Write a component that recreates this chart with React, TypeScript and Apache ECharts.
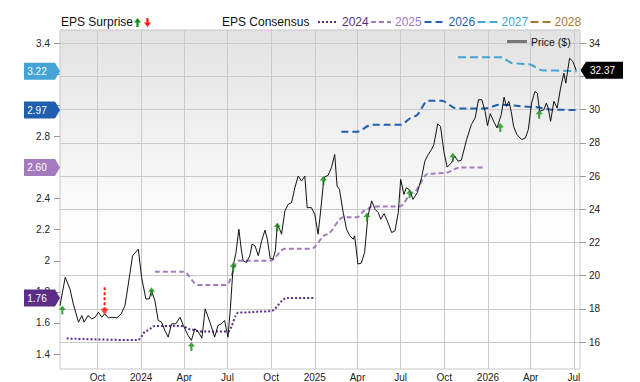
import React, { useEffect, useRef } from 'react';
import * as echarts from 'echarts';

// ---------- data ----------
const xTickDates = ['2023-10-01', '2024-01-01', '2024-04-01', '2024-07-01', '2024-10-01', '2025-01-01', '2025-04-01', '2025-07-01', '2025-10-01', '2026-01-01', '2026-04-01', '2026-07-01'];
const monthNames = ['Jan', 'Feb', 'Mar', 'Apr', 'May', 'Jun', 'Jul', 'Aug', 'Sep', 'Oct', 'Nov', 'Dec'];
const epsTicks = [1.4, 1.6, 1.8, 2.0, 2.2, 2.4, 2.6, 2.8, 3.0, 3.2, 3.4];
// labels hidden behind the consensus badges in the reference are left out
const epsTickLabels = [1.4, 1.6, 1.8, 2.0, 2.2, 2.4, 2.8, 3.4];
const priceTicks = [16, 18, 20, 22, 24, 26, 28, 30, 32, 34];
const priceTickLabels = [16, 18, 20, 22, 24, 26, 28, 30, 34];

const priceDates = [
  '2023-07-14', '2023-07-25', '2023-08-04', '2023-08-11', '2023-08-22', '2023-08-29', '2023-09-03', '2023-09-11', '2023-09-19', '2023-09-26',
  '2023-10-03', '2023-10-10', '2023-10-16', '2023-10-24', '2023-11-01', '2023-11-11', '2023-11-20', '2023-11-28', '2023-12-05', '2023-12-14',
  '2023-12-26', '2024-01-02', '2024-01-11', '2024-01-18', '2024-01-23', '2024-01-30', '2024-02-06', '2024-02-13', '2024-02-20', '2024-02-27',
  '2024-03-05', '2024-03-14', '2024-03-23', '2024-03-30', '2024-04-09', '2024-04-16', '2024-04-23', '2024-04-30', '2024-05-08', '2024-05-15',
  '2024-05-25', '2024-06-04', '2024-06-11', '2024-06-18', '2024-06-25', '2024-07-02', '2024-07-07', '2024-07-13', '2024-07-19', '2024-07-25',
  '2024-07-30', '2024-08-03', '2024-08-10', '2024-08-17', '2024-08-22', '2024-08-28', '2024-09-04', '2024-09-11', '2024-09-18', '2024-09-23',
  '2024-09-29', '2024-10-05', '2024-10-10', '2024-10-14', '2024-10-19', '2024-10-23', '2024-10-30', '2024-11-06', '2024-11-13', '2024-11-20',
  '2024-11-27', '2024-12-04', '2024-12-11', '2024-12-16', '2024-12-25', '2025-01-01', '2025-01-08', '2025-01-13', '2025-01-19', '2025-01-22',
  '2025-01-29', '2025-02-05', '2025-02-12', '2025-02-17', '2025-02-22', '2025-03-02', '2025-03-09', '2025-03-16', '2025-03-23', '2025-03-26',
  '2025-04-02', '2025-04-09', '2025-04-16', '2025-04-23', '2025-05-01', '2025-05-08', '2025-05-15', '2025-05-20', '2025-05-27', '2025-06-03',
  '2025-06-12', '2025-06-19', '2025-06-26', '2025-07-01', '2025-07-08', '2025-07-13', '2025-07-20', '2025-07-27', '2025-08-05', '2025-08-14',
  '2025-08-21', '2025-08-28', '2025-09-04', '2025-09-09', '2025-09-17', '2025-09-23', '2025-09-30', '2025-10-07', '2025-10-16', '2025-10-23',
  '2025-10-30', '2025-11-06', '2025-11-17', '2025-11-27', '2025-12-05', '2025-12-12', '2025-12-19', '2025-12-26', '2025-12-31', '2026-01-06',
  '2026-01-14', '2026-01-20', '2026-01-29', '2026-02-04', '2026-02-09', '2026-02-14', '2026-02-19', '2026-02-24', '2026-03-03', '2026-03-13',
  '2026-03-21', '2026-03-27', '2026-04-03', '2026-04-10', '2026-04-15', '2026-04-20', '2026-04-29', '2026-05-04', '2026-05-08', '2026-05-13',
  '2026-05-20', '2026-05-27', '2026-06-03', '2026-06-10', '2026-06-14', '2026-06-22', '2026-06-29', '2026-07-06',
];
const priceValues = [
  18.2, 19.9, 19.2, 18.3, 17.2, 17.6, 17.2, 17.6, 17.4, 17.5,
  17.8, 17.5, 17.7, 17.46, 17.5, 17.46, 17.7, 18.2, 19.5, 21.2,
  21.6, 19.9, 18.6, 18.6, 19.1, 18.5, 17.3, 17.2, 16.7, 16.3,
  17.1, 17.1, 17.5, 17.0, 16.4, 16.1, 16.8, 16.64, 16.24, 18.0,
  17.2, 16.3, 17.0, 17.1, 17.3, 16.3, 18.0, 20.6, 21.4, 22.8,
  21.6, 20.9, 20.8, 21.2, 21.9, 21.8, 21.2, 22.1, 22.74, 22.2,
  21.04, 21.0, 21.5, 23.1, 22.8, 22.5, 23.9, 24.3, 24.4, 25.3,
  26.0, 25.7, 26.0, 24.1, 24.1, 23.7, 22.5, 23.8, 25.5, 25.96,
  26.04, 26.5, 27.3, 25.4, 25.2, 23.8, 22.8, 22.4, 22.2, 22.4,
  20.7, 20.76, 21.4, 23.6, 24.5, 24.0, 23.8, 23.4, 23.74, 23.3,
  22.6, 22.7, 23.8, 25.8, 24.9, 25.3, 25.16, 24.6, 25.0, 25.9,
  26.9, 27.3, 27.6, 27.9, 29.14, 29.0, 27.5, 26.54, 26.8, 27.2,
  26.9, 26.96, 28.2, 29.1, 29.5, 30.6, 30.6, 29.9, 29.04, 29.76,
  29.24, 28.9, 29.7, 30.76, 30.2, 30.5, 29.9, 29.0, 28.5, 28.2,
  28.3, 28.8, 30.4, 31.1, 31.0, 29.9, 30.0, 30.4, 30.1, 29.3,
  30.5, 30.1, 31.3, 32.2, 31.6, 33.1, 32.9, 32.37,
];

const eps2024Dates = ['2023-07-28', '2023-12-25', '2024-01-12', '2024-01-30', '2024-03-27', '2024-04-13', '2024-05-04', '2024-07-02', '2024-07-24', '2024-09-29', '2024-11-03', '2024-12-29'];
const eps2024Values = [1.50, 1.49, 1.55, 1.58, 1.58, 1.56, 1.545, 1.545, 1.667, 1.675, 1.76, 1.76];

const eps2025Dates = ['2024-01-30', '2024-03-30', '2024-04-30', '2024-06-29', '2024-07-24', '2024-09-29', '2024-10-30', '2024-12-25', '2025-01-26', '2025-03-02', '2025-03-30', '2025-04-20', '2025-05-01', '2025-06-29', '2025-07-27', '2025-08-28', '2025-10-02', '2025-11-03', '2025-12-26'];
const eps2025Values = [1.93, 1.93, 1.845, 1.845, 2.0, 2.0, 2.078, 2.078, 2.17, 2.28, 2.28, 2.33, 2.35, 2.35, 2.44, 2.56, 2.565, 2.60, 2.60];

const eps2026Dates = ['2025-02-26', '2025-03-30', '2025-05-01', '2025-06-29', '2025-07-31', '2025-08-28', '2025-09-25', '2025-10-27', '2025-12-26', '2026-01-27', '2026-04-06', '2026-05-18', '2026-07-07'];
const eps2026Values = [2.83, 2.83, 2.875, 2.875, 2.93, 3.03, 3.03, 2.98, 2.98, 3.005, 2.99, 2.972, 2.97];

const eps2027Dates = ['2025-10-30', '2026-01-27', '2026-02-24', '2026-03-27', '2026-04-27', '2026-07-07'];
const eps2027Values = [3.31, 3.31, 3.27, 3.265, 3.225, 3.22];

const eps2028Dates: string[] = [];
const eps2028Values: number[] = [];

const surpriseUpDates = ['2023-07-19', '2024-01-23', '2024-04-16', '2024-07-13', '2024-10-14', '2025-01-19', '2025-04-21', '2025-07-20', '2025-10-19', '2026-01-27', '2026-04-19'];
const surpriseUpPrices = [18.2, 19.3, 16.0, 20.8, 23.2, 26.0, 23.8, 25.2, 27.4, 29.2, 30.0];

const surpriseDownDates = ['2023-10-16'];
const surpriseDownFrom = [19.3];
const surpriseDownTo = [17.6];

const consensusLabels = ['2024', '2025', '2026', '2027', '2028'];
const consensusBadgeValues = [1.76, 2.60, 2.97, 3.22];

// ---------- helpers ----------
const ts = (s: string) => {
  const [y, m, d] = s.split('-').map(Number);
  return new Date(y, m - 1, d).getTime();
};
const zip = (ds: string[], vs: number[]) => ds.map((d, i) => [ts(d), vs[i]]);

const FONT = 'Liberation Sans, Arial, Helvetica, sans-serif';
const COLORS: Record<string, string> = {
  '2024': '#5b2d86',
  '2025': '#a47bbf',
  '2026': '#1f5fae',
  '2027': '#44a4d6',
  '2028': '#a8782f',
};
const DASH: Record<string, number[]> = {
  '2024': [2, 2],
  '2025': [5, 3],
  '2026': [7, 4],
  '2027': [8, 4],
  '2028': [8, 4],
};
const UP_ARROW = 'path://M4,0 L8,5 L5.2,5 L5.2,10 L2.8,10 L2.8,5 L0,5 Z';
const DOWN_HEAD = 'path://M0,0 L8,0 L4,7 Z';

export default function App() {
  const ref = useRef<HTMLDivElement>(null);

  useEffect(() => {
    document.body.style.margin = '0';
    const chart = echarts.init(ref.current!, null, { renderer: 'svg' });

    const epsSeriesData: Record<string, number[][]> = {
      '2024': zip(eps2024Dates, eps2024Values),
      '2025': zip(eps2025Dates, eps2025Values),
      '2026': zip(eps2026Dates, eps2026Values),
      '2027': zip(eps2027Dates, eps2027Values),
      '2028': zip(eps2028Dates, eps2028Values),
    };

    const consensusSeries = consensusLabels.map((k) => ({
      name: k,
      type: 'line',
      yAxisIndex: 0,
      data: epsSeriesData[k],
      showSymbol: false,
      smooth: 0.35,
      smoothMonotone: 'x',
      lineStyle: { color: COLORS[k], width: 2, type: DASH[k] },
      z: 2,
    }));

    const option: any = {
      animation: false,
      textStyle: { fontFamily: FONT },
      grid: {
        left: 60,
        right: 60,
        top: 30,
        bottom: 12,
        show: true,
        borderColor: '#c6c6c6',
        borderWidth: 1,
        backgroundColor: new echarts.graphic.LinearGradient(0, 0, 0, 1, [
          { offset: 0, color: '#e2e2e2' },
          { offset: 0.62, color: '#ffffff' },
          { offset: 1, color: '#ffffff' },
        ]),
      },
      xAxis: {
        type: 'value',
        min: ts('2023-07-14'),
        max: ts('2026-07-14'),
        axisLine: { show: false },
        axisTick: { show: false, customValues: xTickDates.map(ts) },
        splitLine: { show: true, lineStyle: { color: '#cacaca', width: 1 } },
        axisLabel: {
          customValues: xTickDates.map(ts),
          margin: 3,
          fontSize: 10,
          color: '#222',
          fontFamily: FONT,
          formatter: (v: number) => {
            const d = new Date(v);
            return d.getMonth() === 0 ? String(d.getFullYear()) : monthNames[d.getMonth()];
          },
        },
      },
      yAxis: [
        {
          type: 'value',
          position: 'left',
          min: 1.304,
          max: 3.485,
          axisLine: { show: false },
          splitLine: { show: false },
          axisTick: { show: true, length: 6, lineStyle: { color: '#999' }, customValues: epsTicks },
          axisLabel: {
            customValues: epsTickLabels,
            margin: 10,
            fontSize: 10,
            color: '#222',
            fontFamily: FONT,
            formatter: (v: number) => String(+v.toFixed(1)),
          },
        },
        {
          type: 'value',
          position: 'right',
          min: 14.38,
          max: 34.8,
          axisLine: { show: false },
          splitLine: { show: true, lineStyle: { color: '#cacaca', width: 1 } },
          axisTick: { show: true, length: 6, lineStyle: { color: '#999' }, customValues: priceTicks },
          axisLabel: {
            customValues: priceTickLabels,
            margin: 9,
            fontSize: 10,
            color: '#222',
            fontFamily: FONT,
          },
        },
      ],
      series: [
        ...consensusSeries,
        {
          name: 'Price ($)',
          type: 'line',
          yAxisIndex: 1,
          data: zip(priceDates, priceValues),
          showSymbol: false,
          lineStyle: { color: '#111', width: 1 },
          z: 3,
        },
        {
          name: 'surpriseDownShaft',
          type: 'line',
          yAxisIndex: 1,
          data: [
            [ts(surpriseDownDates[0]), surpriseDownFrom[0]],
            [ts(surpriseDownDates[0]), surpriseDownTo[0] + 0.3],
          ],
          showSymbol: false,
          lineStyle: { color: '#ff1a1a', width: 2, type: [3, 2] },
          z: 4,
        },
        {
          name: 'surpriseDownHead',
          type: 'scatter',
          yAxisIndex: 1,
          data: zip(surpriseDownDates, surpriseDownTo),
          symbol: DOWN_HEAD,
          symbolSize: [8, 7],
          symbolOffset: [0, '-50%'],
          itemStyle: { color: '#ff1a1a' },
          z: 5,
        },
        {
          name: 'surpriseUp',
          type: 'scatter',
          yAxisIndex: 1,
          data: zip(surpriseUpDates, surpriseUpPrices),
          symbol: UP_ARROW,
          symbolSize: [7, 9],
          symbolOffset: [0, '50%'],
          itemStyle: { color: '#138d13' },
          z: 5,
        },
      ],
    };

    chart.setOption(option);

    // ---------- legend + badges (graphic) ----------
    const g: any[] = [];
    const txt = (x: number, y: number, text: string, fill: string, size = 12, align = 'left') => ({
      type: 'text',
      x,
      y,
      z: 100,
      style: { text, fill, fontSize: size, fontFamily: FONT, align, verticalAlign: 'middle' },
    });

    g.push(txt(61, 22, 'EPS Surprise', '#111'));
    g.push({
      type: 'polygon', z: 100,
      shape: { points: [[137.5, 18], [141, 22.5], [138.6, 22.5], [138.6, 27], [136.4, 27], [136.4, 22.5], [134, 22.5]] },
      style: { fill: '#138d13' },
    });
    g.push({
      type: 'polygon', z: 100,
      shape: { points: [[147.5, 27], [151, 22.5], [148.6, 22.5], [148.6, 18], [146.4, 18], [146.4, 22.5], [144, 22.5]] },
      style: { fill: '#ff1a1a' },
    });
    g.push(txt(222, 22, 'EPS Consensus', '#111'));

    const legendX = [318, 371, 424.5, 477.5, 530.5];
    consensusLabels.forEach((k, i) => {
      const x0 = legendX[i];
      g.push({
        type: 'line', z: 100,
        shape: { x1: x0, y1: 22, x2: x0 + 20, y2: 22 },
        style: { stroke: COLORS[k], lineWidth: 2, lineDash: DASH[k] },
      });
      g.push(txt(x0 + 24, 22, k, COLORS[k]));
    });

    // price legend inside plot
    g.push({
      type: 'line', z: 100,
      shape: { x1: 507, y1: 41.5, x2: 527, y2: 41.5 },
      style: { stroke: '#777', lineWidth: 3 },
    });
    g.push(txt(531, 42, 'Price ($)', '#111', 10.5));

    // left consensus badges
    const badgeColors: Record<string, string> = {
      '1.76': COLORS['2024'],
      '2.60': COLORS['2025'],
      '2.97': COLORS['2026'],
      '3.22': COLORS['2027'],
    };
    consensusBadgeValues.forEach((v) => {
      const y = chart.convertToPixel({ yAxisIndex: 0 }, v) as number;
      const label = v.toFixed(2);
      g.push({
        type: 'polygon', z: 110,
        shape: { points: [[24, y - 8.5], [55, y - 8.5], [60, y], [55, y + 8.5], [24, y + 8.5]] },
        style: { fill: badgeColors[label] },
      });
      g.push({ ...txt(37, y, label, '#fff', 10, 'center'), z: 111 });
    });

    // right price badge
    const lastPrice = priceValues[priceValues.length - 1];
    const py = chart.convertToPixel({ yAxisIndex: 1 }, lastPrice) as number;
    g.push({
      type: 'polygon', z: 110,
      shape: { points: [[580.5, py], [586, py - 8.5], [623, py - 8.5], [623, py + 8.5], [586, py + 8.5]] },
      style: { fill: '#000' },
    });
    g.push({ ...txt(590, py, lastPrice.toFixed(2), '#fff', 10), z: 111 });

    chart.setOption({ graphic: g });

    return () => chart.dispose();
  }, []);

  return (
    <div
      ref={ref}
      style={{ position: 'absolute', left: 0, top: 0, width: 640, height: 382 }}
    />
  );
}
